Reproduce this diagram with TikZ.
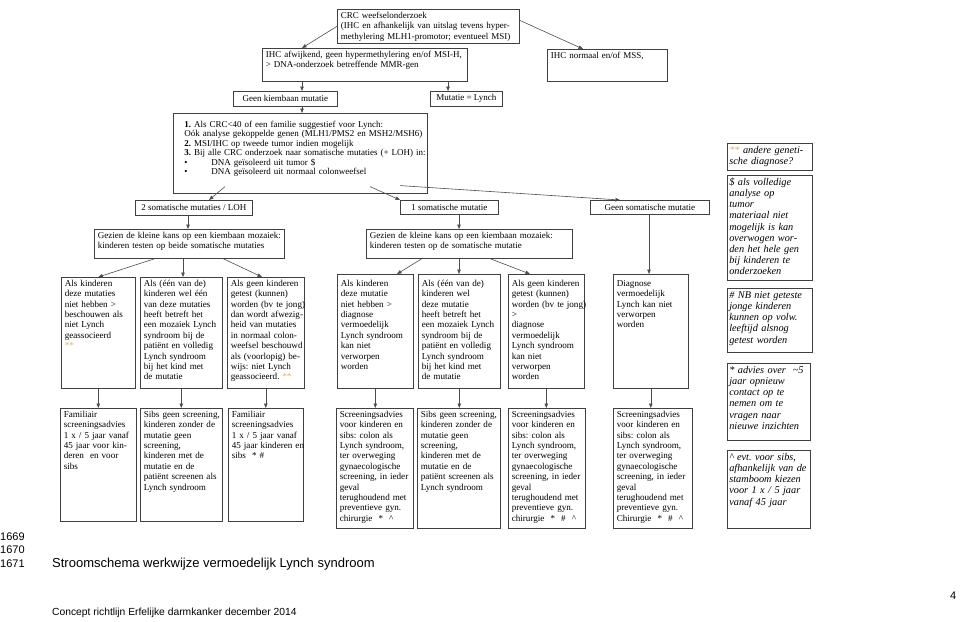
\documentclass[tikz,border=0pt]{standalone}
\usepackage{fontspec}
\setmainfont{Liberation Serif}
\newfontfamily\arialfont{Liberation Sans}
\usetikzlibrary{arrows.meta,calc}
\frenchspacing
\definecolor{starcol}{RGB}{222,176,96}
\tikzset{
  box/.style={draw=black!75, line width=0.6pt, anchor=north west, inner xsep=3.5pt, inner ysep=2pt,
    align=left, font=\fontsize{9}{10.5}\selectfont, text height=7pt,
    execute at begin node={\rightskip=-40pt plus 1fil}},
  rowbox/.style={box, font=\fontsize{9.1}{10.4}\selectfont},
  bar/.style={draw=black!75, line width=0.6pt, anchor=north west, inner sep=0pt,
    font=\fontsize{9}{10.5}\selectfont},
  note/.style={box, font=\fontsize{10.3}{11.2}\selectfont\itshape, inner xsep=2pt, text height=8pt},
  arr/.style={draw=black!70, line width=0.6pt, -{Triangle[length=4.5pt,width=3.5pt]}},
  foot/.style={anchor=base west, inner sep=0pt, font=\arialfont\fontsize{11}{13}\selectfont}
}
\newcommand{\stars}{{\color{starcol}**}}
\begin{document}
\begin{tikzpicture}[x=1pt,y=-1pt]
\useasboundingbox (0,0) rectangle (960,621);

% top part
\node[box, text width=175pt, text depth=23pt] (crc) at (337,9) {CRC weefselonderzoek\\
  (IHC en afhankelijk van uitslag tevens hyper-\\methylering MLH1-promotor; eventueel MSI)};
\node[box, text width=198pt, text depth=22pt] (ihcab) at (262,48) {IHC afwijkend, geen hypermethylering en/of MSI-H,\\
  > DNA-onderzoek betreffende MMR-gen};
\node[box, text width=113pt, text depth=21pt] (ihcnorm) at (547,49) {IHC normaal en/of MSS,};
\node[bar, minimum width=104pt, minimum height=15pt] (geenkiem) at (233,91) {Geen kiembaan mutatie};
\node[bar, minimum width=72pt, minimum height=15pt] (lynch) at (430,91) {Mutatie = Lynch};
\node[box, inner xsep=11pt, text width=232pt, text height=12pt, text depth=64pt,
  font=\fontsize{9}{9.5}\selectfont] (plan) at (173,113) {\textbf{1.} Als CRC<40 of een familie suggestief voor Lynch:\\
  Oók analyse gekoppelde genen (MLH1/PMS2 en MSH2/MSH6)\\
  \textbf{2.} MSI/IHC op tweede tumor indien mogelijk\\
  \textbf{3.} Bij alle CRC onderzoek naar somatische mutaties (+ LOH) in:\\
  \makebox[27pt][l]{\textbullet}DNA geïsoleerd uit tumor \$\\
  \makebox[27pt][l]{\textbullet}DNA geïsoleerd uit normaal colonweefsel};

\draw[arr] (crc.west) -- ($(ihcab.north west)+(40,0)$);
\draw[arr] ($(crc.east)+(0,-6)$) -- ($(ihcnorm.north west)+(36,0)$);
\draw[arr] ($(ihcab.south west)+(40,0)$) -- ($(geenkiem.north west)+(69,0)$);
\draw[arr] ($(ihcab.south west)+(186,0)$) -- ($(lynch.north west)+(18,0)$);
\draw[arr] ($(geenkiem.south west)+(69,0)$) -- ($(plan.north west)+(129,0)$);

% somatic results
\node[bar, minimum width=117pt, minimum height=15pt] (som2) at (135,200) {2 somatische mutaties / LOH};
\node[bar, minimum width=98pt, minimum height=14pt] (som1) at (400,200) {1 somatische mutatie};
\node[bar, minimum width=119pt, minimum height=14pt] (geensom) at (590,200) {Geen somatische mutatie};
\node[box, text width=183pt, text depth=18pt] (gezL) at (94,229) {Gezien de kleine kans op een kiembaan mozaiek:\\
  kinderen testen op beide somatische mutaties};
\node[box, text width=199pt, text depth=18pt] (gezR) at (366,229) {Gezien de kleine kans op een kiembaan mozaiek:\\
  kinderen testen op de somatische mutatie};

\draw[arr] ($(plan.south west)+(52,-7)$) -- ($(som2.north west)+(74,0)$);
\draw[arr] ($(plan.south west)+(197,-7)$) -- (som1.north west);
\draw[arr] ($(plan.south west)+(227,-8)$) -- ($(geensom.north west)+(30,0)$);
\draw[arr] ($(som2.south west)+(53,0)$) -- ($(gezL.north west)+(94,0)$);
\draw[arr] ($(som1.south west)+(59,0)$) -- ($(gezR.north west)+(93,0)$);

% row 3
\node[rowbox, text width=67pt, text depth=100pt] (a3) at (61,277) {Als kinderen\\deze mutaties\\niet hebben >\\
  beschouwen als\\niet Lynch\\geassocieerd\\\stars};
\node[rowbox, text width=75pt, text depth=100pt] (b3) at (140,277) {Als (één van de)\\kinderen wel één\\
  van deze mutaties\\heeft betreft het\\een mozaiek Lynch\\syndroom bij de\\patiënt en volledig\\
  Lynch syndroom\\bij het kind met\\de mutatie};
\node[rowbox, text width=70pt, text depth=100pt] (c3) at (227,277) {Als geen kinderen\\getest (kunnen)\\
  worden (bv te jong)\\dan wordt afwezig-\\heid van mutaties\\in normaal colon-\\weefsel beschouwd\\
  als (voorlopig) be-\\wijs: niet Lynch\\geassocieerd. \stars};
\node[rowbox, text width=69pt, text height=10pt, text depth=100pt] (d3) at (337,274) {Als kinderen\\deze mutatie\\niet hebben >\\
  diagnose\\vermoedelijk\\Lynch syndroom\\kan niet\\verworpen\\worden};
\node[rowbox, text width=75pt, text height=10pt, text depth=100pt] (e3) at (418,274) {Als (één van de)\\kinderen wel\\deze mutatie\\
  heeft betreft het\\een mozaiek Lynch\\syndroom bij de\\patiënt en volledig\\Lynch syndroom\\
  bij het kind met\\de mutatie};
\node[rowbox, text width=69pt, text height=10pt, text depth=100pt] (f3) at (508,274) {Als geen kinderen\\getest (kunnen)\\
  worden (bv te jong)\\>\\diagnose\\vermoedelijk\\Lynch syndroom\\kan niet\\verworpen\\worden};
\node[rowbox, text width=68pt, text height=10pt, text depth=100pt] (g3) at (613,274) {Diagnose\\vermoedelijk\\Lynch kan niet\\
  verworpen\\worden};

\draw[arr] ($(gezL.south west)+(61,0)$) -- (a3.north);
\draw[arr] ($(gezL.south west)+(89,0)$) -- ($(b3.north west)+(43,0)$);
\draw[arr] ($(gezL.south west)+(129,0)$) -- ($(c3.north west)+(35,0)$);
\draw[arr] ($(gezR.south west)+(56,0)$) -- ($(d3.north west)+(60,0)$);
\draw[arr] ($(gezR.south west)+(93,0)$) -- ($(e3.north west)+(41,0)$);
\draw[arr] ($(gezR.south west)+(124,0)$) -- ($(f3.north west)+(22,0)$);
\draw[arr] ($(geensom.south west)+(59,0)$) -- ($(g3.north west)+(36,0)$);

% row 4
\node[rowbox, text width=69pt, text depth=102pt] (a4) at (60,408) {Familiair\\screeningsadvies\\
  1 x / 5 jaar vanaf\\45 jaar voor kin-\\deren\ \ en voor\\sibs};
\node[rowbox, text width=75pt, text depth=102pt] (b4) at (140,408) {Sibs geen screening,\\kinderen zonder de\\
  mutatie geen\\screening,\\kinderen met de\\mutatie en de\\patiënt screenen als\\Lynch syndroom};
\node[rowbox, text width=68pt, text depth=102pt] (c4) at (228,408) {Familiair\\screeningsadvies\\
  1 x / 5 jaar vanaf\\45 jaar kinderen en\\sibs\ \ * \#};
\node[rowbox, text width=70pt, text depth=109pt] (d4) at (336,408) {Screeningsadvies\\voor kinderen en\\
  sibs: colon als\\Lynch syndroom,\\ter overweging\\gynaecologische\\screening, in ieder\\geval\\
  terughoudend met\\preventieve gyn.\\chirurgie\ \ *\ \ \textasciicircum};
\node[rowbox, text width=76pt, text depth=109pt] (e4) at (417,408) {Sibs geen screening,\\kinderen zonder de\\
  mutatie geen\\screening,\\kinderen met de\\mutatie en de\\patiënt screenen als\\Lynch syndroom};
\node[rowbox, text width=70pt, text depth=109pt] (f4) at (508,408) {Screeningsadvies\\voor kinderen en\\
  sibs: colon als\\Lynch syndroom,\\ter overweging\\gynaecologische\\screening, in ieder\\geval\\
  terughoudend met\\preventieve gyn.\\chirurgie\ \ *\ \ \#\ \ \textasciicircum};
\node[rowbox, text width=72pt, text depth=109pt] (g4) at (613,408) {Screeningsadvies\\voor kinderen en\\
  sibs: colon als\\Lynch syndroom,\\ter overweging\\gynaecologische\\screening, in ieder\\geval\\
  terughoudend met\\preventieve gyn.\\Chirurgie\ \ *\ \ \#\ \ \textasciicircum};

\foreach \r in {a,b,c,d,e,f,g}
  \draw[arr] (\r3.south) -- (\r3.south |- \r4.north);

% notes
\node[note, text width=81pt, text depth=15pt] (n1) at (727,143) {\stars\ andere geneti-\\sche diagnose?};
\node[note, text width=81pt, text depth=93pt] (n2) at (727,175) {\$ als volledige\\analyse op\\tumor\\
  materiaal niet\\mogelijk is kan\\overwogen wor-\\den het hele gen\\bij kinderen te\\onderzoeken};
\node[note, text width=81pt, text depth=52pt] (n3) at (727,288) {\# NB niet geteste\\jonge kinderen\\
  kunnen op volw.\\leeftijd alsnog\\getest worden};
\node[note, text width=79pt, text depth=65pt] (n4) at (727,363) {* advies over\ \ \textasciitilde5\\jaar opnieuw\\
  contact op te\\nemen om te\\vragen naar\\nieuwe inzichten};
\node[note, text width=79pt, text depth=66pt] (n5) at (727,450) {\textasciicircum\ evt. voor sibs,\\
  afhankelijk van de\\stamboom kiezen\\voor 1 x / 5 jaar\\vanaf 45 jaar};

% page text
\node[foot] (ln1) at (0,540) {1669};
\node[foot] (ln2) at (0,553) {1670};
\node[foot] (ln3) at (0,567) {1671};
\node[foot, font=\arialfont\fontsize{13}{15}\selectfont] (title) at (52,567) {Stroomschema werkwijze vermoedelijk Lynch syndroom};
\node[foot, font=\arialfont\fontsize{10.3}{12}\selectfont] (footer) at (52,615) {Concept richtlijn Erfelijke darmkanker december 2014};
\node[foot] (page) at (950,599) {4};
\end{tikzpicture}
\end{document}
